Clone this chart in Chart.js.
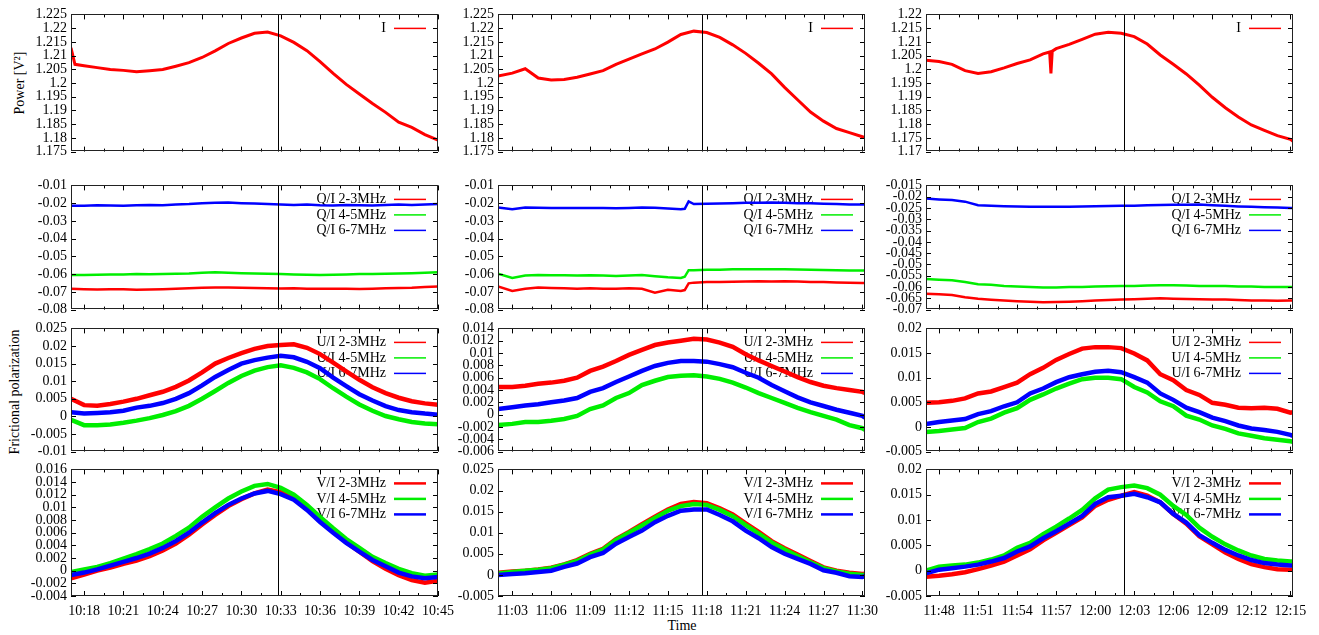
<!DOCTYPE html>
<html>
<head>
<meta charset="utf-8">
<script src="https://cdn.jsdelivr.net/npm/chart.js@4.4.1/dist/chart.umd.min.js"></script>
<style>
  body { margin: 0; background: #fff; }
  #wrap { position: relative; width: 1319px; height: 635px; overflow: hidden; background: #fff; }
  #wrap canvas { position: absolute; }
  .lbl { position: absolute; font: 14px 'Liberation Serif', serif; color: #000; white-space: nowrap; transform: translate(-50%, -50%); }
  .rot { transform: translate(-50%, -50%) rotate(-90deg); }
</style>
</head>
<body>
<div id="wrap">
  <div class="lbl rot" style="left:20px; top:83px;">Power [V²]</div>
  <div class="lbl rot" style="left:15px; top:392px;">Frictional polarization</div>
  <div class="lbl" style="left:682px; top:626px;">Time</div>
</div>
<script>
// time in minutes after 10:00
const time1 = [17,18,19,20,21,22,23,24,25,26,27,28,29,30,31,32,33,34,35,36,37,38,39,40,41,42,43,44,45];
const time2 = [61.9,63,64,65,66,67,68,69,70,71,72,73,74,75,76,77,78,79,80,81,82,83,84,85,86,87,88,89,90,90.2];
const time3 = [107,108,109,110,111,112,113,114,115,116,117,118,119,120,121,122,123,124,125,126,127,128,129,130,131,132,133,134,135,135.2];
const timeI1 = [17,17.3,18,19,20,21,22,23,24,25,26,27,28,29,30,31,32,33,34,35,36,37,38,39,40,41,42,43,44,45];
const timeQ2 = [61.9,63,64,65,66,67,68,69,70,71,72,73,74,75,76,76.3,76.6,77,78,79,80,81,82,83,84,85,86,87,88,89,90,90.2];
const timeI3 = [107,108,109,110,111,112,113,114,115,116,116.5,116.6,116.7,117,118,119,120,121,122,123,124,125,126,127,128,129,130,131,132,133,134,135,135.2];

const xRanges = [[17, 45], [61.9, 90.2], [107, 135.2]];
const markTime = [32.8, 77.6, 122.2];

const iLabels = ['I'];
const qLabels = ['Q/I 2-3MHz', 'Q/I 4-5MHz', 'Q/I 6-7MHz'];
const uLabels = ['U/I 2-3MHz', 'U/I 4-5MHz', 'U/I 6-7MHz'];
const vLabels = ['V/I 2-3MHz', 'V/I 4-5MHz', 'V/I 6-7MHz'];

// y ticks [min, max, step] per column
const iTicks = [[1.175, 1.225, 0.005], [1.175, 1.225, 0.005], [1.17, 1.22, 0.005]];
const qTicks = [[-0.08, -0.01, 0.01], [-0.08, -0.01, 0.01], [-0.07, -0.015, 0.005]];
const uTicks = [[-0.01, 0.025, 0.005], [-0.006, 0.014, 0.002], [-0.005, 0.02, 0.005]];
const vTicks = [[-0.004, 0.016, 0.002], [-0.005, 0.025, 0.005], [-0.005, 0.02, 0.005]];

// I
const i1 = [1.2128,1.2068,1.2063,1.2056,1.2049,1.2046,1.2041,1.2045,1.2049,1.2061,1.2074,1.2093,1.2117,1.2144,1.2164,1.2181,1.2186,1.2172,1.2148,1.2118,1.2078,1.2035,1.1995,1.196,1.1925,1.1893,1.1857,1.1838,1.1812,1.1792];
const i2 = [1.2025,1.2036,1.2052,1.2018,1.2011,1.2013,1.2021,1.2033,1.2045,1.2068,1.2087,1.2106,1.2124,1.2149,1.2177,1.2189,1.2184,1.2166,1.2139,1.2108,1.2072,1.2033,1.1984,1.1939,1.1894,1.1861,1.1834,1.1819,1.1804,1.1801];
const i3 = [1.2033,1.2028,1.2018,1.1995,1.1985,1.1991,1.2005,1.2021,1.2034,1.2056,1.2063,1.1985,1.2066,1.2075,1.2091,1.2109,1.2128,1.2135,1.2131,1.2119,1.2092,1.2052,1.2018,1.1983,1.1942,1.1898,1.186,1.1826,1.1797,1.1777,1.1758,1.1745,1.1738];

// Q/I
const q1Red = [-0.0683,-0.0685,-0.0687,-0.0686,-0.0686,-0.0688,-0.0687,-0.0685,-0.0683,-0.068,-0.0677,-0.0675,-0.0676,-0.0677,-0.0678,-0.068,-0.0681,-0.068,-0.0682,-0.0683,-0.0682,-0.0683,-0.0684,-0.0682,-0.068,-0.0678,-0.0677,-0.0673,-0.067];
const q1Green = [-0.0605,-0.0605,-0.0603,-0.0602,-0.0602,-0.06,-0.0601,-0.06,-0.0598,-0.0597,-0.0593,-0.059,-0.0592,-0.0595,-0.0597,-0.0598,-0.06,-0.0602,-0.0603,-0.0605,-0.0603,-0.0602,-0.06,-0.06,-0.0598,-0.0597,-0.0595,-0.0593,-0.059];
const q1Blue = [-0.0215,-0.0215,-0.0212,-0.0213,-0.0215,-0.0212,-0.021,-0.0212,-0.0208,-0.0205,-0.02,-0.0198,-0.0197,-0.02,-0.0202,-0.0205,-0.0207,-0.021,-0.0208,-0.0212,-0.0213,-0.021,-0.0212,-0.0213,-0.021,-0.0208,-0.021,-0.0207,-0.0205];
const q2Red = [-0.067,-0.0695,-0.0682,-0.0675,-0.0678,-0.068,-0.0682,-0.068,-0.0683,-0.0682,-0.068,-0.0683,-0.0705,-0.0688,-0.0695,-0.069,-0.0652,-0.0648,-0.0645,-0.0645,-0.0643,-0.0642,-0.064,-0.0642,-0.064,-0.0642,-0.0645,-0.0645,-0.0647,-0.0648,-0.065,-0.065];
const q2Green = [-0.0598,-0.0622,-0.0608,-0.0605,-0.0607,-0.0606,-0.0608,-0.0607,-0.0608,-0.061,-0.0608,-0.0605,-0.0612,-0.0618,-0.0622,-0.0615,-0.0578,-0.0578,-0.0576,-0.0575,-0.0573,-0.0572,-0.0572,-0.0573,-0.0572,-0.0574,-0.0576,-0.0577,-0.0578,-0.0579,-0.058,-0.058];
const q2Blue = [-0.0225,-0.0235,-0.0225,-0.0226,-0.0228,-0.0228,-0.0227,-0.0228,-0.0228,-0.0229,-0.0227,-0.0225,-0.0226,-0.023,-0.0235,-0.0232,-0.019,-0.0205,-0.0203,-0.0202,-0.02,-0.0198,-0.0198,-0.0197,-0.0198,-0.02,-0.0201,-0.0203,-0.0205,-0.0207,-0.0208,-0.0208];
const q3Red = [-0.063,-0.0632,-0.0635,-0.0645,-0.0652,-0.0656,-0.066,-0.0663,-0.0665,-0.0667,-0.0666,-0.0665,-0.0663,-0.066,-0.0658,-0.0655,-0.0654,-0.0652,-0.065,-0.0652,-0.0653,-0.0654,-0.0655,-0.0655,-0.0658,-0.066,-0.066,-0.0661,-0.066,-0.066];
const q3Green = [-0.0565,-0.0568,-0.057,-0.0578,-0.0588,-0.059,-0.0595,-0.0598,-0.06,-0.0602,-0.0602,-0.06,-0.06,-0.0598,-0.0597,-0.0595,-0.0595,-0.0593,-0.0592,-0.0592,-0.0593,-0.0595,-0.0595,-0.0596,-0.0598,-0.0598,-0.06,-0.06,-0.06,-0.06];
const q3Blue = [-0.0208,-0.0212,-0.0215,-0.0222,-0.0238,-0.024,-0.0242,-0.0243,-0.0245,-0.0245,-0.0244,-0.0245,-0.0243,-0.0242,-0.0241,-0.024,-0.024,-0.0238,-0.0237,-0.0236,-0.0236,-0.0235,-0.0238,-0.024,-0.0243,-0.0245,-0.0247,-0.0248,-0.025,-0.025];

// U/I
const u1Red = [0.005,0.0032,0.003,0.0035,0.0042,0.005,0.006,0.007,0.0084,0.0102,0.0125,0.015,0.0166,0.018,0.0192,0.02,0.0203,0.0205,0.0195,0.0177,0.0153,0.0128,0.0104,0.0083,0.0066,0.0053,0.0043,0.0037,0.0033];
const u1Green = [-0.001,-0.0025,-0.0025,-0.0023,-0.0018,-0.0012,-0.0005,0.0004,0.0015,0.003,0.005,0.0072,0.0095,0.0115,0.013,0.014,0.0145,0.0138,0.0125,0.0106,0.008,0.0056,0.0034,0.0016,0.0001,-0.0008,-0.0016,-0.002,-0.0022];
const u1Blue = [0.0012,0.0008,0.001,0.0012,0.0016,0.0025,0.003,0.0038,0.005,0.0066,0.0088,0.0112,0.0132,0.015,0.016,0.0167,0.0172,0.0168,0.0155,0.0137,0.011,0.0086,0.0063,0.0045,0.0029,0.0018,0.0012,0.0008,0.0005];
const u2Red = [0.0045,0.0045,0.0047,0.005,0.0052,0.0055,0.006,0.0071,0.0078,0.0087,0.0097,0.0105,0.0113,0.0117,0.012,0.0123,0.0122,0.0117,0.011,0.0098,0.0088,0.0079,0.007,0.0061,0.0053,0.0047,0.0043,0.004,0.0037,0.0035];
const u2Green = [-0.0017,-0.0015,-0.0012,-0.0012,-0.001,-0.0007,-0.0002,0.0009,0.0015,0.0027,0.0035,0.0048,0.0055,0.0061,0.0063,0.0064,0.0062,0.0058,0.0052,0.0044,0.0035,0.0027,0.0019,0.0011,0.0004,-0.0002,-0.0008,-0.0017,-0.0022,-0.0025];
const u2Blue = [0.0009,0.0012,0.0015,0.0017,0.002,0.0023,0.0027,0.0037,0.0043,0.0053,0.0062,0.0071,0.0079,0.0084,0.0087,0.0087,0.0086,0.0082,0.0077,0.0068,0.006,0.0048,0.0038,0.0028,0.002,0.0014,0.0008,0.0003,-0.0002,-0.0005];
const u3Red = [0.0049,0.005,0.0053,0.0058,0.0068,0.0072,0.0081,0.009,0.0107,0.012,0.0136,0.0148,0.0159,0.0162,0.0162,0.016,0.0149,0.0135,0.0107,0.0095,0.0075,0.0065,0.0049,0.0045,0.0039,0.0038,0.0039,0.0037,0.0029,0.003];
const u3Green = [-0.001,-0.0008,-0.0005,-0.0002,0.001,0.0017,0.0029,0.0038,0.0055,0.0066,0.0078,0.0088,0.0097,0.01,0.01,0.0097,0.0081,0.007,0.0052,0.0042,0.0023,0.0015,0.0003,-0.0004,-0.0013,-0.0018,-0.0023,-0.0026,-0.0029,-0.003];
const u3Blue = [0.0006,0.001,0.0013,0.0016,0.0026,0.0032,0.0042,0.005,0.0068,0.0078,0.0091,0.0101,0.0107,0.0112,0.0114,0.0111,0.0101,0.009,0.0068,0.0055,0.0039,0.003,0.0019,0.0012,0.0003,-0.0003,-0.0006,-0.001,-0.0016,-0.0018];

// V/I
const v1Red = [-0.0012,-0.0006,0,0.0005,0.0011,0.0016,0.0023,0.0032,0.0043,0.0057,0.0073,0.0088,0.0102,0.0113,0.0122,0.0128,0.0124,0.0115,0.0099,0.008,0.0062,0.0045,0.003,0.0015,0.0003,-0.0007,-0.0015,-0.0019,-0.0016];
const v1Green = [-0.0002,0.0002,0.0006,0.0012,0.0019,0.0026,0.0034,0.0043,0.0055,0.0068,0.0085,0.01,0.0114,0.0125,0.0134,0.0137,0.0131,0.012,0.0104,0.0085,0.0067,0.005,0.0036,0.0022,0.0012,0.0003,-0.0004,-0.0008,-0.0006];
const v1Blue = [-0.0007,-0.0003,0.0002,0.0008,0.0014,0.002,0.0027,0.0036,0.0047,0.006,0.0076,0.0091,0.0104,0.0114,0.0122,0.0126,0.0121,0.0112,0.0096,0.0077,0.006,0.0044,0.003,0.0017,0.0007,-0.0003,-0.0009,-0.0012,-0.001];
const v2Red = [0.0005,0.0008,0.001,0.0013,0.0017,0.0025,0.0035,0.005,0.0062,0.0085,0.0102,0.012,0.0138,0.0155,0.0168,0.0173,0.017,0.0158,0.0143,0.0122,0.0102,0.008,0.0063,0.0048,0.0033,0.0018,0.001,0.0005,0.0002,0.0003];
const v2Green = [0.0003,0.0007,0.001,0.0012,0.0016,0.0024,0.0033,0.0048,0.006,0.0083,0.01,0.0117,0.0135,0.0152,0.0163,0.0168,0.0166,0.0154,0.0139,0.0118,0.0098,0.0077,0.006,0.0045,0.003,0.0016,0.0008,0.0003,0,0];
const v2Blue = [0,0.0002,0.0004,0.0007,0.001,0.0019,0.0027,0.0042,0.0052,0.0074,0.009,0.0105,0.0125,0.014,0.0152,0.0155,0.0155,0.0142,0.0127,0.0105,0.0087,0.0066,0.005,0.0038,0.0026,0.0011,0.0005,-0.0003,-0.0005,-0.0003];
const v3Red = [-0.0012,-0.001,-0.0007,-0.0003,0.0003,0.001,0.0018,0.003,0.0042,0.006,0.0075,0.009,0.0105,0.0128,0.014,0.0148,0.0155,0.0148,0.0135,0.0112,0.0093,0.0068,0.0052,0.0036,0.0023,0.0013,0.0007,0.0003,0.0002,0.0002];
const v3Green = [0,0.0008,0.001,0.0012,0.0016,0.0022,0.003,0.0045,0.0055,0.0072,0.0087,0.0103,0.012,0.0143,0.016,0.0165,0.0168,0.0163,0.015,0.0128,0.011,0.0085,0.0067,0.0052,0.004,0.003,0.0023,0.002,0.0018,0.0018];
const v3Blue = [-0.0005,0.0002,0.0005,0.0008,0.0012,0.0018,0.0025,0.0038,0.0048,0.0064,0.0078,0.0093,0.0108,0.0132,0.0145,0.0148,0.0152,0.0145,0.0135,0.0112,0.0095,0.007,0.0055,0.0041,0.003,0.0021,0.0015,0.0012,0.001,0.001];

const colors = ['#ff0000', '#00ee00', '#0000ff'];
const serif = "'Liberation Serif', 'Times New Roman', serif";

// plot boxes on the page
const colLeft = [71, 498, 926];
const plotW = 367;
const rowTop = [12, 183, 326, 467];
const rowH = [142, 129, 128, 129];
const lineW = [3, 2.5, 4.5, 4.5];

const rows = [
  { labels: iLabels, ticks: iTicks, times: [timeI1, time2, timeI3], data: [[i1], [i2], [i3]] },
  { labels: qLabels, ticks: qTicks, times: [time1, timeQ2, time3], data: [[q1Red, q1Green, q1Blue], [q2Red, q2Green, q2Blue], [q3Red, q3Green, q3Blue]] },
  { labels: uLabels, ticks: uTicks, times: [time1, time2, time3], data: [[u1Red, u1Green, u1Blue], [u2Red, u2Green, u2Blue], [u3Red, u3Green, u3Blue]] },
  { labels: vLabels, ticks: vTicks, times: [time1, time2, time3], data: [[v1Red, v1Green, v1Blue], [v2Red, v2Green, v2Blue], [v3Red, v3Green, v3Blue]] }
];

function fmtTime(v) {
  const h = 10 + Math.floor(v / 60);
  const m = Math.round(v % 60);
  return h + ':' + String(m).padStart(2, '0');
}

// gnuplot look: frame, inward ticks, key, marker line
const gnuFrame = {
  id: 'gnuFrame',
  beforeDatasetsDraw(chart, args, opts) {
    const ctx = chart.ctx;
    const a = chart.chartArea;
    ctx.save();
    ctx.font = '14px ' + serif;
    ctx.textAlign = 'right';
    ctx.textBaseline = 'middle';
    chart.data.datasets.forEach((ds, k) => {
      const y = a.top + 14 + k * 15.5;
      ctx.fillStyle = '#000';
      ctx.fillText(ds.label, a.right - 52, y);
      ctx.strokeStyle = ds.borderColor;
      ctx.lineWidth = opts.keyWidth;
      ctx.beginPath();
      ctx.moveTo(a.right - 44, y);
      ctx.lineTo(a.right - 12, y);
      ctx.stroke();
    });
    ctx.restore();
  },
  afterDatasetsDraw(chart, args, opts) {
    const ctx = chart.ctx;
    const a = chart.chartArea;
    const xs = chart.scales.x, ys = chart.scales.y;
    ctx.save();
    ctx.strokeStyle = '#000';
    ctx.lineWidth = 1;
    ctx.beginPath();
    const mx = Math.round(xs.getPixelForValue(opts.mark)) + 0.5;
    ctx.moveTo(mx, a.top);
    ctx.lineTo(mx, a.bottom);
    xs.ticks.forEach(t => {
      const px = Math.round(xs.getPixelForValue(t.value)) + 0.5;
      ctx.moveTo(px, a.bottom); ctx.lineTo(px, a.bottom - 5);
      ctx.moveTo(px, a.top); ctx.lineTo(px, a.top + 5);
      const mv = t.value + 1.5;
      if (mv < xs.max) {
        const pm = Math.round(xs.getPixelForValue(mv)) + 0.5;
        ctx.moveTo(pm, a.bottom); ctx.lineTo(pm, a.bottom - 3);
        ctx.moveTo(pm, a.top); ctx.lineTo(pm, a.top + 3);
      }
    });
    ys.ticks.forEach(t => {
      const py = Math.round(ys.getPixelForValue(t.value)) + 0.5;
      ctx.moveTo(a.left, py); ctx.lineTo(a.left + 5, py);
      ctx.moveTo(a.right, py); ctx.lineTo(a.right - 5, py);
    });
    ctx.stroke();
    ctx.strokeStyle = '#222';
    ctx.strokeRect(Math.round(a.left) + 0.5, Math.round(a.top) + 0.5, Math.round(a.right - a.left) - 1, Math.round(a.bottom - a.top) - 1);
    ctx.restore();
  }
};

const wrap = document.getElementById('wrap');

rows.forEach((row, r) => {
  const last = r === rows.length - 1;
  for (let c = 0; c < 3; c++) {
    const bottomH = last ? 28 : 10;
    const cw = plotW + 70 + 24;
    const ch = rowH[r] + 10 + bottomH;
    const cv = document.createElement('canvas');
    cv.width = cw; cv.height = ch;
    cv.style.left = (colLeft[c] - 70) + 'px';
    cv.style.top = (rowTop[r] - 10) + 'px';
    cv.style.width = cw + 'px';
    cv.style.height = ch + 'px';
    wrap.appendChild(cv);

    const [ymin, ymax, ystep] = row.ticks[c];
    const datasets = row.data[c].map((vals, k) => ({
      label: row.labels[k],
      data: vals,
      borderColor: colors[k],
      borderWidth: lineW[r],
      pointRadius: 0,
      tension: 0,
      fill: false,
      order: 3 - k
    }));

    new Chart(cv, {
      type: 'line',
      data: { labels: row.times[c], datasets: datasets },
      options: {
        responsive: false,
        animation: false,
        events: [],
        layout: { padding: { left: 0, top: 10, right: 24, bottom: last ? 0 : 10 } },
        plugins: {
          legend: { display: false },
          tooltip: { enabled: false },
          gnuFrame: { mark: markTime[c], keyWidth: last ? 2.5 : 1.5 }
        },
        scales: {
          x: {
            type: 'linear',
            min: xRanges[c][0],
            max: xRanges[c][1],
            grid: { display: false, drawTicks: false },
            border: { display: false },
            ticks: {
              display: last,
              stepSize: 3,
              includeBounds: false,
              autoSkip: false,
              maxRotation: 0,
              padding: 7,
              color: '#000',
              font: { family: serif, size: 14 },
              callback: v => fmtTime(v)
            },
            afterFit: s => { s.height = last ? 28 : 0; }
          },
          y: {
            min: ymin,
            max: ymax,
            grid: { display: false, drawTicks: false },
            border: { display: false },
            ticks: {
              stepSize: ystep,
              autoSkip: false,
              padding: 4,
              color: '#000',
              font: { family: serif, size: 14 },
              callback: v => String(+v.toFixed(6))
            },
            afterFit: s => { s.width = 70; }
          }
        }
      },
      plugins: [gnuFrame]
    });
  }
});
</script>
</body>
</html>
